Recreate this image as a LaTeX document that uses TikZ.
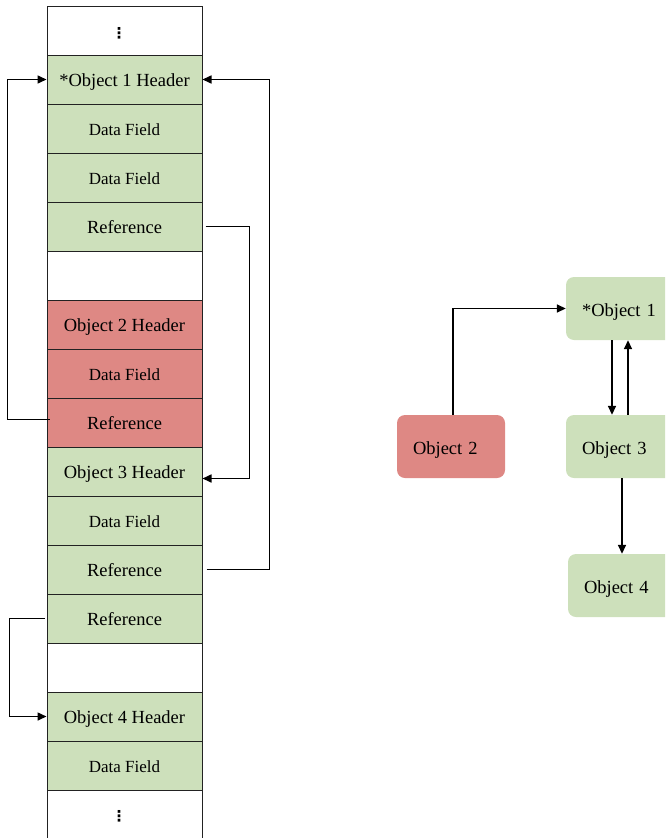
\documentclass[tikz,border=0pt]{standalone}
\usepackage{fontspec}
\setmainfont{Liberation Serif}
\newfontfamily\dejavu{DejaVu Sans Bold}
\usetikzlibrary{arrows.meta,calc}
\definecolor{cgreen}{HTML}{CDE0BB}
\definecolor{cred}{HTML}{DE8884}
\definecolor{cline}{HTML}{222222}
\begin{document}
\begin{tikzpicture}[x=1pt,y=-1pt,
  cell/.style={draw=cline,line width=1pt,minimum width=155pt,minimum height=49pt,inner sep=0pt,text height=13pt,text depth=0pt,font=\fontsize{18.5}{20}\selectfont},
  gcell/.style={cell,fill=cgreen},
  rcell/.style={cell,fill=cred},
  wcell/.style={cell,fill=white},
  small/.style={font=\fontsize{17}{19}\selectfont},
  dotstyle/.style={font=\dejavu\fontsize{15}{15}\selectfont,inner sep=0pt},
  obj/.style={rounded corners=8pt,minimum height=63pt,inner xsep=16pt,inner ysep=0pt,text width=76pt,text height=15pt,text depth=0pt,align=left,font=\fontsize{18.5}{20}\selectfont},
  gobj/.style={obj,fill=cgreen},
  robj/.style={obj,fill=cred},
  arr/.style={line width=1.6pt,-{Triangle[length=9pt,width=8pt]}}]
\useasboundingbox (0,0) rectangle (665,838);
\clip (0,0) rectangle (665,838);
% memory column
\node[wcell] (c0) at (124.5,30.5) {};
\node[dotstyle] (dtop) at (119,33) {⋮};
\node[gcell] (c1) at (124.5,79.5) {*Object 1 Header};
\node[gcell,small] (c2) at (124.5,128.5) {Data Field};
\node[gcell,small] (c3) at (124.5,177.5) {Data Field};
\node[gcell] (c4) at (124.5,226.5) {Reference};
\node[wcell] (c5) at (124.5,275.5) {};
\node[rcell] (c6) at (124.5,324.5) {Object 2 Header};
\node[rcell,small] (c7) at (124.5,373.5) {Data Field};
\node[rcell] (c8) at (124.5,422.5) {Reference};
\node[gcell] (c9) at (124.5,471.5) {Object 3 Header};
\node[gcell,small] (c10) at (124.5,520.5) {Data Field};
\node[gcell] (c11) at (124.5,569.5) {Reference};
\node[gcell] (c12) at (124.5,618.5) {Reference};
\node[wcell] (c13) at (124.5,667.5) {};
\node[gcell] (c14) at (124.5,716.5) {Object 4 Header};
\node[gcell,small] (c15) at (124.5,765.5) {Data Field};
\node[wcell,minimum height=60pt] (c16) at (124.5,820) {};
\node[dotstyle] (dbot) at (119,816) {⋮};
% column connectors
\draw[arr] ([xshift=3pt,yshift=3pt]c8.west) -- ++(-42,0) |- (c1.west);
\draw[arr] ([xshift=3pt]c4.east) -- ++(44,0) |- ([yshift=-7pt]c9.east);
\draw[arr] ([xshift=4pt]c11.east) -- ++(63,0) |- (c1.east);
\draw[arr] ([xshift=-2pt]c12.west) -- ++(-35,0) |- (c14.west);
% object graph
\node[gobj] (o1) at (620,308.5) {*Object 1};
\node[robj] (o2) at (451,446.5) {Object 2};
\node[gobj] (o3) at (620,446.5) {Object 3};
\node[gobj] (o4) at (622,585.5) {Object 4};
\draw[arr] ([xshift=2pt]o2.north) |- (o1.west);
\draw[arr] ([xshift=-8pt]o1.south) -- ([xshift=-8pt]o3.north);
\draw[arr] ([xshift=8pt]o3.north) -- ([xshift=8pt]o1.south);
\draw[arr] (o4.north |- o3.south) -- (o4.north);
\end{tikzpicture}
\end{document}
